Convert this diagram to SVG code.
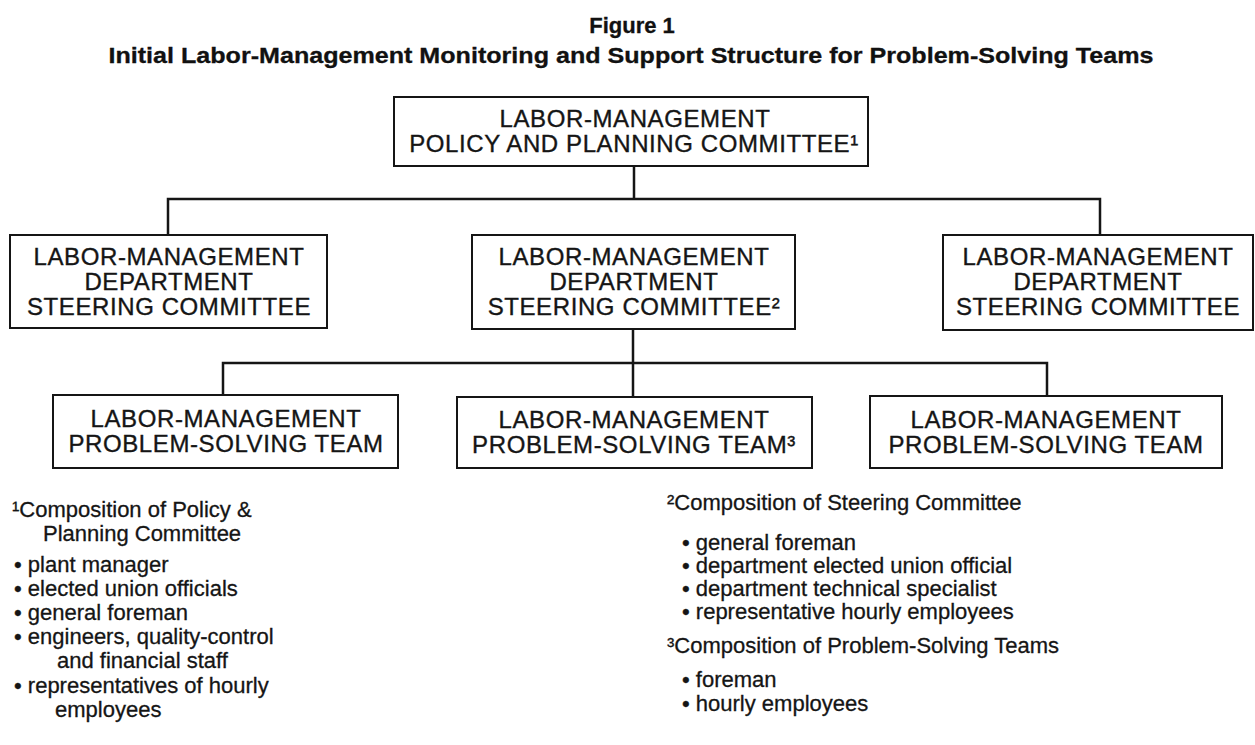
<svg xmlns="http://www.w3.org/2000/svg" width="1255" height="745" viewBox="0 0 1255 745">
<style>
.bg{fill:#fff}
.box{fill:#fff;stroke:#151515;stroke-width:2}
.conn{fill:none;stroke:#151515;stroke-width:2.5}
.title{font-family:"Liberation Sans",Arial,sans-serif;font-weight:bold;font-size:22px;fill:#111;text-anchor:middle;stroke:#111;stroke-width:0.3}
.nt{font-family:"Liberation Sans",Arial,sans-serif;font-size:24px;letter-spacing:0.6px;fill:#151515;text-anchor:middle;stroke:#151515;stroke-width:0.35}
.fn{font-family:"Liberation Sans",Arial,sans-serif;font-size:22px;fill:#151515;stroke:#151515;stroke-width:0.3}
</style>
<rect class="bg" x="0" y="0" width="1255" height="745"/>
<g id="title">
<text class="title" x="632" y="33" font-size="23">Figure 1</text>
<text class="title" x="631" y="63" textLength="1045" lengthAdjust="spacingAndGlyphs">Initial Labor-Management Monitoring and Support Structure for Problem-Solving Teams</text>
</g>
<g id="connectors">
<path class="conn" d="M634 167 V199 M168 235 V199 H1100 V235"/>
<path class="conn" d="M633 329 V397 M223 396 V363 H1047 V396"/>
</g>
<g id="policy-committee">
<rect class="box" x="394" y="97" width="474" height="69"/>
<text class="nt" x="635" y="127">LABOR-MANAGEMENT</text>
<text class="nt" x="634" y="152">POLICY AND PLANNING COMMITTEE¹</text>
</g>
<g id="steering-left">
<rect class="box" x="10" y="235" width="317" height="93"/>
<text class="nt" x="169" y="265">LABOR-MANAGEMENT</text>
<text class="nt" x="169" y="290">DEPARTMENT</text>
<text class="nt" x="169" y="315">STEERING COMMITTEE</text>
</g>
<g id="steering-middle">
<rect class="box" x="472" y="235" width="323" height="94"/>
<text class="nt" x="634" y="265">LABOR-MANAGEMENT</text>
<text class="nt" x="634" y="290">DEPARTMENT</text>
<text class="nt" x="634" y="315">STEERING COMMITTEE²</text>
</g>
<g id="steering-right">
<rect class="box" x="943" y="235" width="310" height="95"/>
<text class="nt" x="1098" y="265">LABOR-MANAGEMENT</text>
<text class="nt" x="1098" y="290">DEPARTMENT</text>
<text class="nt" x="1098" y="315">STEERING COMMITTEE</text>
</g>
<g id="team-left">
<rect class="box" x="53" y="395" width="345" height="73"/>
<text class="nt" x="226" y="427">LABOR-MANAGEMENT</text>
<text class="nt" x="226" y="452">PROBLEM-SOLVING TEAM</text>
</g>
<g id="team-middle">
<rect class="box" x="457" y="397" width="355" height="71"/>
<text class="nt" x="634" y="428">LABOR-MANAGEMENT</text>
<text class="nt" x="634" y="453">PROBLEM-SOLVING TEAM³</text>
</g>
<g id="team-right">
<rect class="box" x="870" y="396" width="352" height="72"/>
<text class="nt" x="1046" y="428">LABOR-MANAGEMENT</text>
<text class="nt" x="1046" y="453">PROBLEM-SOLVING TEAM</text>
</g>
<g id="footnote-1">
<text class="fn" x="12" y="517">¹Composition of Policy &amp;</text>
<text class="fn" x="43" y="541">Planning Committee</text>
<text class="fn" x="14" y="572">• plant manager</text>
<text class="fn" x="14" y="596">• elected union officials</text>
<text class="fn" x="14" y="620">• general foreman</text>
<text class="fn" x="14" y="644">• engineers, quality-control</text>
<text class="fn" x="57" y="668">and financial staff</text>
<text class="fn" x="14" y="693">• representatives of hourly</text>
<text class="fn" x="55" y="717">employees</text>
</g>
<g id="footnote-2">
<text class="fn" x="667" y="510">²Composition of Steering Committee</text>
<text class="fn" x="682" y="550">• general foreman</text>
<text class="fn" x="682" y="573">• department elected union official</text>
<text class="fn" x="682" y="596">• department technical specialist</text>
<text class="fn" x="682" y="619">• representative hourly employees</text>
</g>
<g id="footnote-3">
<text class="fn" x="667" y="653">³Composition of Problem-Solving Teams</text>
<text class="fn" x="682" y="687">• foreman</text>
<text class="fn" x="682" y="711">• hourly employees</text>
</g>
</svg>
